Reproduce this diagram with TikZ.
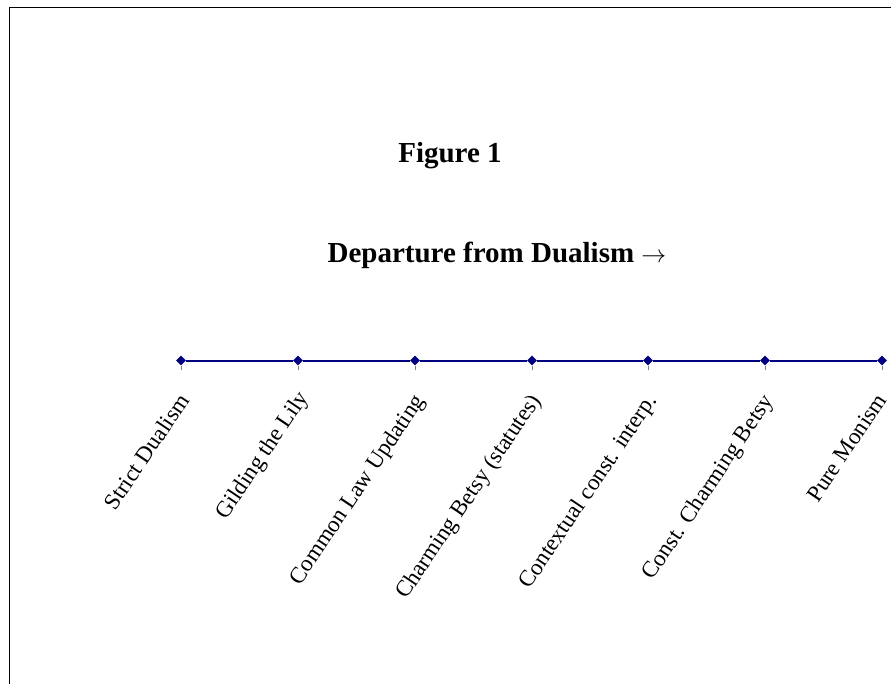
\documentclass[tikz,border=0pt]{standalone}
\usepackage{fontspec}
\setmainfont{Liberation Serif}
\usetikzlibrary{shapes.geometric}
\definecolor{axisblue}{HTML}{000080}
\begin{document}
\begin{tikzpicture}[x=1pt,y=-1pt,
  mk/.style={diamond, fill=axisblue, draw=none, inner sep=0pt, minimum size=10pt},
  axisline/.style={draw=axisblue, line width=2pt},
  tickmark/.style={draw=gray, line width=1pt},
  lbl/.style={rotate=56, anchor=north east, inner sep=0pt, font=\fontsize{23}{26}\selectfont},
  ttl/.style={font=\bfseries\fontsize{29}{33}\selectfont, inner sep=0pt, anchor=base},
  frame/.style={draw=black, line width=1.5pt}]
\useasboundingbox (0,0) rectangle (891,684);
% frame
\coordinate (fa) at (9.5,684);
\coordinate (fb) at (9.5,7.5);
\coordinate (fc) at (891,7.5);
\draw[frame] (fa) -- (fb) -- (fc);
% titles
\node[ttl] (t1) at (450,163) {Figure 1};
\node[ttl] (t2) at (497,263) {Departure from Dualism $\rightarrow$};
% markers
\foreach \i/\x in {1/181,2/298,3/415,4/532,5/648,6/765,7/882}{
  \node[mk] (p\i) at (\x,360.5) {};
  \draw[tickmark] (p\i.south) -- ++(0,4);
}
\foreach \a/\b in {1/2,2/3,3/4,4/5,5/6,6/7}{
  \draw[axisline] (p\a) -- (p\b);
}
% labels
\node[lbl] (l1) at ([xshift=-4pt,yshift=-31pt]p1.center) {Strict Dualism};
\node[lbl] (l2) at ([xshift=-2pt,yshift=-28pt]p2.center) {Gilding the Lily};
\node[lbl] (l3) at ([xshift=-3pt,yshift=-31pt]p3.center) {Common Law Updating};
\node[lbl] (l4) at ([xshift=-4pt,yshift=-31pt]p4.center) {Charming Betsy (statutes)};
\node[lbl] (l5) at ([xshift=-4pt,yshift=-31pt]p5.center) {Contextual const. interp.};
\node[lbl] (l6) at ([xshift=-4pt,yshift=-31pt]p6.center) {Const. Charming Betsy};
\node[lbl] (l7) at ([xshift=-7pt,yshift=-31pt]p7.center) {Pure Monism};
\end{tikzpicture}
\end{document}
